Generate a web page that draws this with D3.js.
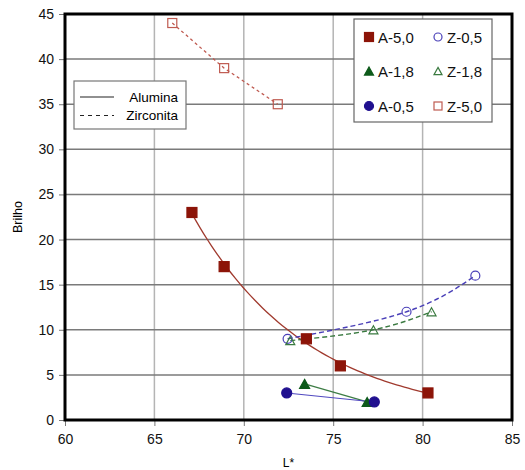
<!DOCTYPE html>
<html>
<head>
<meta charset="utf-8">
<script src="https://cdn.jsdelivr.net/npm/d3@7"></script>
<style>
  body { margin: 0; background: #fff; }
  text { font-family: "Liberation Sans", Arial, sans-serif; }
</style>
</head>
<body>
<svg width="525" height="470"></svg>
<script>
// data
var xTicks = [60, 65, 70, 75, 80, 85];
var yTicks = [0, 5, 10, 15, 20, 25, 30, 35, 40, 45];

var a50x = [67.1, 68.9, 73.5, 75.4, 80.3];
var a50y = [23, 17, 9, 6, 3];
var a18x = [73.4, 76.9];
var a18y = [4, 2];
var a05x = [72.4, 77.3];
var a05y = [3, 2];
var z05x = [72.45, 79.1, 82.95];
var z05y = [9, 12, 16];
var z18x = [72.6, 77.25, 80.5];
var z18y = [8.8, 10, 12];
var z50x = [66, 68.9, 71.9];
var z50y = [44, 39, 35];

var svg = d3.select("svg");
var margin = {left: 65, right: 13, top: 14, bottom: 50};
var W = 525, H = 470;

var x = d3.scaleLinear().domain([60, 85]).range([margin.left, W - margin.right]);
var y = d3.scaleLinear().domain([0, 45]).range([H - margin.bottom, margin.top]);

function zip(xs, ys) { return xs.map(function(v, i) { return [v, ys[i]]; }); }

// grid
svg.append("g").selectAll("line").data(xTicks.slice(1, -1)).enter().append("line")
  .attr("x1", d => x(d)).attr("x2", d => x(d))
  .attr("y1", y(45)).attr("y2", y(0))
  .attr("stroke", "#b4b4b4").attr("stroke-width", 1.5);
svg.append("g").selectAll("line").data(yTicks.slice(1, -1)).enter().append("line")
  .attr("x1", x(60)).attr("x2", x(85))
  .attr("y1", d => y(d)).attr("y2", d => y(d))
  .attr("stroke", "#7a7a7a").attr("stroke-width", 1.5);

// axes
var xAxis = svg.append("g").attr("transform", "translate(0," + y(0) + ")")
  .call(d3.axisBottom(x).tickValues(xTicks).tickSize(6).tickPadding(8));
var yAxis = svg.append("g").attr("transform", "translate(" + x(60) + ",0)")
  .call(d3.axisLeft(y).tickValues(yTicks).tickSize(6).tickPadding(5));
[xAxis, yAxis].forEach(function(g) {
  g.select(".domain").remove();
  g.selectAll(".tick line").attr("stroke", "#777");
  g.selectAll("text").attr("font-size", 14).attr("fill", "#111")
    .style("font-family", "Liberation Sans, Arial, sans-serif");
});

// exponential trend for A-5,0 (fitted from its points)
var lx = a50x, ly = a50y.map(Math.log);
var mx = d3.mean(lx), my = d3.mean(ly);
var b = d3.sum(lx.map((v, i) => (v - mx) * (ly[i] - my))) / d3.sum(lx.map(v => (v - mx) * (v - mx)));
var a = my - b * mx;
var trend = d3.range(0, 61).map(function(i) {
  var xv = a50x[0] + (a50x[4] - a50x[0]) * i / 60;
  return [xv, Math.exp(a + b * xv)];
});

var line = d3.line().x(d => x(d[0])).y(d => y(d[1]));
var smooth = d3.line().x(d => x(d[0])).y(d => y(d[1])).curve(d3.curveNatural);

var cRed = "#8c1408", cRedLt = "#bf5a50", cBlue = "#20108f", cBlueLt = "#4a40b8",
    cGreen = "#0d5a1a", cGreenLt = "#3a7a40";

svg.append("path").attr("d", line(trend)).attr("fill", "none").attr("stroke", "#a03a2e").attr("stroke-width", 1.3);
svg.append("path").attr("d", line(zip(a18x, a18y))).attr("fill", "none").attr("stroke", "#3d7d45").attr("stroke-width", 1.3);
svg.append("path").attr("d", line(zip(a05x, a05y))).attr("fill", "none").attr("stroke", "#5048c0").attr("stroke-width", 1.1);
svg.append("path").attr("d", smooth(zip(z05x, z05y))).attr("fill", "none").attr("stroke", cBlueLt).attr("stroke-width", 1.4).attr("stroke-dasharray", "5,3");
svg.append("path").attr("d", smooth(zip(z18x, z18y))).attr("fill", "none").attr("stroke", cGreenLt).attr("stroke-width", 1.4).attr("stroke-dasharray", "5,3");
svg.append("path").attr("d", line(zip(z50x, z50y))).attr("fill", "none").attr("stroke", cRedLt).attr("stroke-width", 1.3).attr("stroke-dasharray", "3,3");

// markers
function marker(g, type, cx, cy, fill, stroke, s) {
  if (type === "square") {
    g.append("rect").attr("x", cx - s / 2).attr("y", cy - s / 2).attr("width", s).attr("height", s)
      .attr("fill", fill).attr("stroke", stroke).attr("stroke-width", 1.2);
  } else if (type === "circle") {
    g.append("circle").attr("cx", cx).attr("cy", cy).attr("r", s / 2)
      .attr("fill", fill).attr("stroke", stroke).attr("stroke-width", 1.2);
  } else {
    var h = s * 0.9;
    g.append("path").attr("d", "M" + cx + "," + (cy - h / 2) + "L" + (cx + s / 2) + "," + (cy + h / 2) + "L" + (cx - s / 2) + "," + (cy + h / 2) + "Z")
      .attr("fill", fill).attr("stroke", stroke).attr("stroke-width", 1.2);
  }
}
var series = [
  {name: "A-5,0", xs: a50x, ys: a50y, type: "square", fill: cRed, stroke: cRed, s: 10},
  {name: "A-1,8", xs: a18x, ys: a18y, type: "triangle", fill: cGreen, stroke: cGreen, s: 10},
  {name: "A-0,5", xs: a05x, ys: a05y, type: "circle", fill: cBlue, stroke: cBlue, s: 10},
  {name: "Z-0,5", xs: z05x, ys: z05y, type: "circle", fill: "none", stroke: cBlueLt, s: 9},
  {name: "Z-1,8", xs: z18x, ys: z18y, type: "triangle", fill: "none", stroke: cGreenLt, s: 9},
  {name: "Z-5,0", xs: z50x, ys: z50y, type: "square", fill: "none", stroke: cRedLt, s: 9}
];
var mg = svg.append("g");
series.forEach(function(sr) {
  sr.xs.forEach(function(v, i) { marker(mg, sr.type, x(v), y(sr.ys[i]), sr.fill, sr.stroke, sr.s); });
});

// plot frame
svg.append("rect").attr("x", x(60)).attr("y", y(45)).attr("width", x(85) - x(60)).attr("height", y(0) - y(45))
  .attr("fill", "none").attr("stroke", "#000").attr("stroke-width", 3);

// axis titles
svg.append("text").attr("transform", "translate(22," + (y(22.5)) + ") rotate(-90)")
  .attr("text-anchor", "middle").attr("font-size", 12.5).text("Brilho");
svg.append("text").attr("x", x(72.5)).attr("y", 467).attr("text-anchor", "middle").attr("font-size", 12).text("L*");

// line-style legend
var lg = svg.append("g");
lg.append("rect").attr("x", 74).attr("y", 81).attr("width", 112).attr("height", 48)
  .attr("fill", "#fff").attr("stroke", "#777").attr("stroke-width", 1.2);
lg.append("line").attr("x1", 80).attr("x2", 114).attr("y1", 97).attr("y2", 97).attr("stroke", "#222").attr("stroke-width", 1.2);
lg.append("line").attr("x1", 80).attr("x2", 114).attr("y1", 115.5).attr("y2", 115.5).attr("stroke", "#222").attr("stroke-width", 1.2).attr("stroke-dasharray", "4,4");
lg.append("text").attr("x", 178).attr("y", 101.5).attr("text-anchor", "end").attr("font-size", 13.5).text("Alumina");
lg.append("text").attr("x", 178).attr("y", 120).attr("text-anchor", "end").attr("font-size", 13.5).text("Zirconita");

// series legend
var sg = svg.append("g");
sg.append("rect").attr("x", 354).attr("y", 19).attr("width", 138).attr("height", 103)
  .attr("fill", "#fff").attr("stroke", "#666").attr("stroke-width", 1.2);
var rows = [37, 71, 106];
series.forEach(function(sr, i) {
  var col = i < 3 ? 0 : 1, row = i % 3;
  var mx0 = col === 0 ? 369 : 438;
  marker(sg, sr.type, mx0, rows[row], sr.fill, sr.stroke, sr.fill === "none" ? 8 : 9);
  sg.append("text").attr("x", mx0 + 9).attr("y", rows[row] + 5.5).attr("font-size", 15).attr("fill", "#111").text(sr.name);
});
</script>
</body>
</html>
